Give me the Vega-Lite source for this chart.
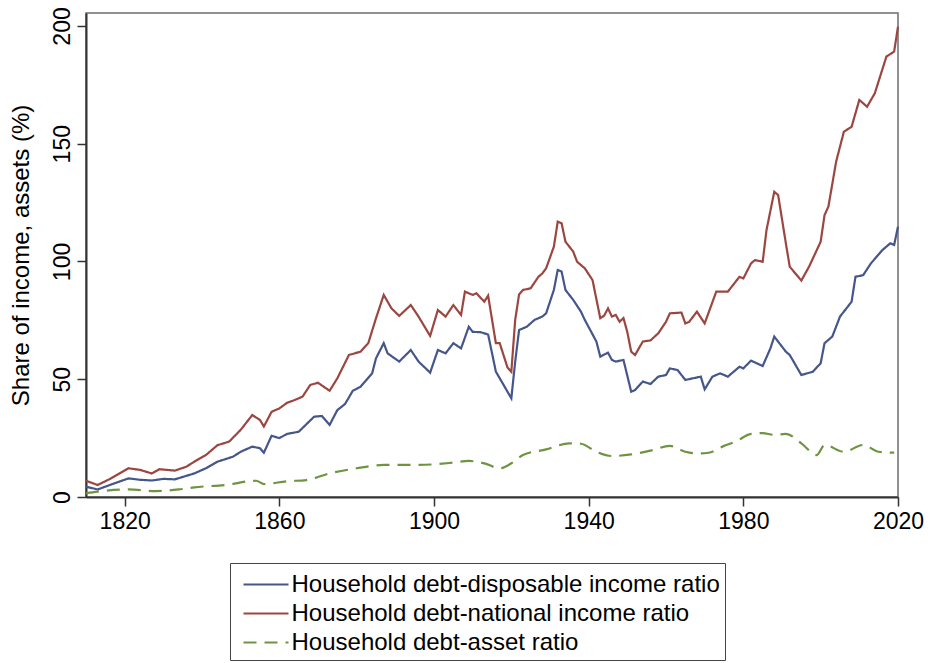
{
  "$schema": "https://vega.github.io/schema/vega-lite/v6.json",
  "width": 812,
  "height": 484,
  "autosize": {"type": "none"},
  "padding": {"left": 86, "top": 13, "right": 32, "bottom": 166},
  "background": "white",
  "config": {
    "font": "Liberation Sans",
    "view": {"stroke": "#6e6e6e", "strokeWidth": 1.5}
  },
  "datasets": {
    "d": [
      {"year": 1810, "series": "Household debt-disposable income ratio", "value": 4.4},
      {"year": 1813, "series": "Household debt-disposable income ratio", "value": 3.2},
      {"year": 1816, "series": "Household debt-disposable income ratio", "value": 5.0},
      {"year": 1821, "series": "Household debt-disposable income ratio", "value": 7.9},
      {"year": 1824, "series": "Household debt-disposable income ratio", "value": 7.3},
      {"year": 1827, "series": "Household debt-disposable income ratio", "value": 7.0},
      {"year": 1830, "series": "Household debt-disposable income ratio", "value": 7.7},
      {"year": 1833, "series": "Household debt-disposable income ratio", "value": 7.5},
      {"year": 1838, "series": "Household debt-disposable income ratio", "value": 10.0},
      {"year": 1841, "series": "Household debt-disposable income ratio", "value": 12.2},
      {"year": 1844, "series": "Household debt-disposable income ratio", "value": 15.0},
      {"year": 1848, "series": "Household debt-disposable income ratio", "value": 17.1},
      {"year": 1850, "series": "Household debt-disposable income ratio", "value": 19.2},
      {"year": 1853, "series": "Household debt-disposable income ratio", "value": 21.4},
      {"year": 1855, "series": "Household debt-disposable income ratio", "value": 20.7},
      {"year": 1856, "series": "Household debt-disposable income ratio", "value": 18.8},
      {"year": 1858, "series": "Household debt-disposable income ratio", "value": 26.0},
      {"year": 1860, "series": "Household debt-disposable income ratio", "value": 25.0},
      {"year": 1862, "series": "Household debt-disposable income ratio", "value": 26.8},
      {"year": 1865, "series": "Household debt-disposable income ratio", "value": 27.7},
      {"year": 1869, "series": "Household debt-disposable income ratio", "value": 34.1},
      {"year": 1871, "series": "Household debt-disposable income ratio", "value": 34.4},
      {"year": 1873, "series": "Household debt-disposable income ratio", "value": 30.6},
      {"year": 1875, "series": "Household debt-disposable income ratio", "value": 36.9},
      {"year": 1877, "series": "Household debt-disposable income ratio", "value": 39.5},
      {"year": 1879, "series": "Household debt-disposable income ratio", "value": 45.1},
      {"year": 1881, "series": "Household debt-disposable income ratio", "value": 46.8},
      {"year": 1884, "series": "Household debt-disposable income ratio", "value": 52.5},
      {"year": 1885, "series": "Household debt-disposable income ratio", "value": 58.9},
      {"year": 1887, "series": "Household debt-disposable income ratio", "value": 65.3},
      {"year": 1888, "series": "Household debt-disposable income ratio", "value": 61.0},
      {"year": 1891, "series": "Household debt-disposable income ratio", "value": 57.5},
      {"year": 1894, "series": "Household debt-disposable income ratio", "value": 62.4},
      {"year": 1896, "series": "Household debt-disposable income ratio", "value": 57.5},
      {"year": 1899, "series": "Household debt-disposable income ratio", "value": 52.8},
      {"year": 1901, "series": "Household debt-disposable income ratio", "value": 62.4},
      {"year": 1903, "series": "Household debt-disposable income ratio", "value": 61.0},
      {"year": 1905, "series": "Household debt-disposable income ratio", "value": 65.3},
      {"year": 1907, "series": "Household debt-disposable income ratio", "value": 63.1},
      {"year": 1909, "series": "Household debt-disposable income ratio", "value": 72.3},
      {"year": 1910, "series": "Household debt-disposable income ratio", "value": 70.1},
      {"year": 1912, "series": "Household debt-disposable income ratio", "value": 70.0},
      {"year": 1914, "series": "Household debt-disposable income ratio", "value": 69.0},
      {"year": 1916, "series": "Household debt-disposable income ratio", "value": 53.2},
      {"year": 1917, "series": "Household debt-disposable income ratio", "value": 50.4},
      {"year": 1920, "series": "Household debt-disposable income ratio", "value": 41.9},
      {"year": 1921, "series": "Household debt-disposable income ratio", "value": 57.5},
      {"year": 1922, "series": "Household debt-disposable income ratio", "value": 70.9},
      {"year": 1924, "series": "Household debt-disposable income ratio", "value": 72.3},
      {"year": 1926, "series": "Household debt-disposable income ratio", "value": 75.2},
      {"year": 1928, "series": "Household debt-disposable income ratio", "value": 76.6},
      {"year": 1929, "series": "Household debt-disposable income ratio", "value": 78.0},
      {"year": 1931, "series": "Household debt-disposable income ratio", "value": 87.9},
      {"year": 1932, "series": "Household debt-disposable income ratio", "value": 96.4},
      {"year": 1933, "series": "Household debt-disposable income ratio", "value": 95.7},
      {"year": 1934, "series": "Household debt-disposable income ratio", "value": 87.9},
      {"year": 1936, "series": "Household debt-disposable income ratio", "value": 83.7},
      {"year": 1938, "series": "Household debt-disposable income ratio", "value": 78.7},
      {"year": 1939, "series": "Household debt-disposable income ratio", "value": 75.2},
      {"year": 1942, "series": "Household debt-disposable income ratio", "value": 66.0},
      {"year": 1943, "series": "Household debt-disposable income ratio", "value": 59.6},
      {"year": 1945, "series": "Household debt-disposable income ratio", "value": 61.3},
      {"year": 1946, "series": "Household debt-disposable income ratio", "value": 58.2},
      {"year": 1947, "series": "Household debt-disposable income ratio", "value": 57.5},
      {"year": 1949, "series": "Household debt-disposable income ratio", "value": 58.2},
      {"year": 1951, "series": "Household debt-disposable income ratio", "value": 44.7},
      {"year": 1952, "series": "Household debt-disposable income ratio", "value": 45.4},
      {"year": 1954, "series": "Household debt-disposable income ratio", "value": 49.0},
      {"year": 1956, "series": "Household debt-disposable income ratio", "value": 48.0},
      {"year": 1958, "series": "Household debt-disposable income ratio", "value": 51.1},
      {"year": 1960, "series": "Household debt-disposable income ratio", "value": 51.8},
      {"year": 1961, "series": "Household debt-disposable income ratio", "value": 54.6},
      {"year": 1963, "series": "Household debt-disposable income ratio", "value": 53.9},
      {"year": 1965, "series": "Household debt-disposable income ratio", "value": 49.7},
      {"year": 1967, "series": "Household debt-disposable income ratio", "value": 50.4},
      {"year": 1969, "series": "Household debt-disposable income ratio", "value": 51.1},
      {"year": 1970, "series": "Household debt-disposable income ratio", "value": 45.7},
      {"year": 1972, "series": "Household debt-disposable income ratio", "value": 51.1},
      {"year": 1974, "series": "Household debt-disposable income ratio", "value": 52.5},
      {"year": 1976, "series": "Household debt-disposable income ratio", "value": 51.1},
      {"year": 1979, "series": "Household debt-disposable income ratio", "value": 55.3},
      {"year": 1980, "series": "Household debt-disposable income ratio", "value": 54.6},
      {"year": 1982, "series": "Household debt-disposable income ratio", "value": 57.9},
      {"year": 1985, "series": "Household debt-disposable income ratio", "value": 55.6},
      {"year": 1987, "series": "Household debt-disposable income ratio", "value": 63.1},
      {"year": 1988, "series": "Household debt-disposable income ratio", "value": 68.1},
      {"year": 1991, "series": "Household debt-disposable income ratio", "value": 61.7},
      {"year": 1992, "series": "Household debt-disposable income ratio", "value": 60.3},
      {"year": 1995, "series": "Household debt-disposable income ratio", "value": 51.8},
      {"year": 1998, "series": "Household debt-disposable income ratio", "value": 53.2},
      {"year": 2000, "series": "Household debt-disposable income ratio", "value": 56.8},
      {"year": 2001, "series": "Household debt-disposable income ratio", "value": 65.3},
      {"year": 2003, "series": "Household debt-disposable income ratio", "value": 68.1},
      {"year": 2005, "series": "Household debt-disposable income ratio", "value": 76.6},
      {"year": 2008, "series": "Household debt-disposable income ratio", "value": 82.9},
      {"year": 2009, "series": "Household debt-disposable income ratio", "value": 93.5},
      {"year": 2011, "series": "Household debt-disposable income ratio", "value": 94.2},
      {"year": 2013, "series": "Household debt-disposable income ratio", "value": 99.2},
      {"year": 2016, "series": "Household debt-disposable income ratio", "value": 104.9},
      {"year": 2018, "series": "Household debt-disposable income ratio", "value": 107.7},
      {"year": 2019, "series": "Household debt-disposable income ratio", "value": 107.0},
      {"year": 2020, "series": "Household debt-disposable income ratio", "value": 114.8},

      {"year": 1810, "series": "Household debt-national income ratio", "value": 6.9},
      {"year": 1813, "series": "Household debt-national income ratio", "value": 5.1},
      {"year": 1816, "series": "Household debt-national income ratio", "value": 7.5},
      {"year": 1821, "series": "Household debt-national income ratio", "value": 12.2},
      {"year": 1824, "series": "Household debt-national income ratio", "value": 11.5},
      {"year": 1827, "series": "Household debt-national income ratio", "value": 10.0},
      {"year": 1829, "series": "Household debt-national income ratio", "value": 11.8},
      {"year": 1833, "series": "Household debt-national income ratio", "value": 11.2},
      {"year": 1836, "series": "Household debt-national income ratio", "value": 12.9},
      {"year": 1838, "series": "Household debt-national income ratio", "value": 15.0},
      {"year": 1841, "series": "Household debt-national income ratio", "value": 17.8},
      {"year": 1844, "series": "Household debt-national income ratio", "value": 22.0},
      {"year": 1847, "series": "Household debt-national income ratio", "value": 23.5},
      {"year": 1850, "series": "Household debt-national income ratio", "value": 28.5},
      {"year": 1853, "series": "Household debt-national income ratio", "value": 34.8},
      {"year": 1855, "series": "Household debt-national income ratio", "value": 32.7},
      {"year": 1856, "series": "Household debt-national income ratio", "value": 29.9},
      {"year": 1858, "series": "Household debt-national income ratio", "value": 36.2},
      {"year": 1860, "series": "Household debt-national income ratio", "value": 37.6},
      {"year": 1862, "series": "Household debt-national income ratio", "value": 40.0},
      {"year": 1864, "series": "Household debt-national income ratio", "value": 41.2},
      {"year": 1866, "series": "Household debt-national income ratio", "value": 42.6},
      {"year": 1868, "series": "Household debt-national income ratio", "value": 47.6},
      {"year": 1870, "series": "Household debt-national income ratio", "value": 48.5},
      {"year": 1873, "series": "Household debt-national income ratio", "value": 45.1},
      {"year": 1875, "series": "Household debt-national income ratio", "value": 50.4},
      {"year": 1878, "series": "Household debt-national income ratio", "value": 60.3},
      {"year": 1881, "series": "Household debt-national income ratio", "value": 61.7},
      {"year": 1883, "series": "Household debt-national income ratio", "value": 65.3},
      {"year": 1885, "series": "Household debt-national income ratio", "value": 75.9},
      {"year": 1887, "series": "Household debt-national income ratio", "value": 85.8},
      {"year": 1889, "series": "Household debt-national income ratio", "value": 80.1},
      {"year": 1891, "series": "Household debt-national income ratio", "value": 76.9},
      {"year": 1894, "series": "Household debt-national income ratio", "value": 81.5},
      {"year": 1896, "series": "Household debt-national income ratio", "value": 76.6},
      {"year": 1899, "series": "Household debt-national income ratio", "value": 68.4},
      {"year": 1901, "series": "Household debt-national income ratio", "value": 79.4},
      {"year": 1903, "series": "Household debt-national income ratio", "value": 76.6},
      {"year": 1905, "series": "Household debt-national income ratio", "value": 81.5},
      {"year": 1907, "series": "Household debt-national income ratio", "value": 77.3},
      {"year": 1908, "series": "Household debt-national income ratio", "value": 87.2},
      {"year": 1910, "series": "Household debt-national income ratio", "value": 85.8},
      {"year": 1911, "series": "Household debt-national income ratio", "value": 86.5},
      {"year": 1913, "series": "Household debt-national income ratio", "value": 82.9},
      {"year": 1914, "series": "Household debt-national income ratio", "value": 85.5},
      {"year": 1916, "series": "Household debt-national income ratio", "value": 65.3},
      {"year": 1917, "series": "Household debt-national income ratio", "value": 65.3},
      {"year": 1919, "series": "Household debt-national income ratio", "value": 55.0},
      {"year": 1920, "series": "Household debt-national income ratio", "value": 53.2},
      {"year": 1921, "series": "Household debt-national income ratio", "value": 75.2},
      {"year": 1922, "series": "Household debt-national income ratio", "value": 86.0},
      {"year": 1923, "series": "Household debt-national income ratio", "value": 87.9},
      {"year": 1925, "series": "Household debt-national income ratio", "value": 88.6},
      {"year": 1927, "series": "Household debt-national income ratio", "value": 93.5},
      {"year": 1928, "series": "Household debt-national income ratio", "value": 94.9},
      {"year": 1929, "series": "Household debt-national income ratio", "value": 97.1},
      {"year": 1931, "series": "Household debt-national income ratio", "value": 106.3},
      {"year": 1932, "series": "Household debt-national income ratio", "value": 116.9},
      {"year": 1933, "series": "Household debt-national income ratio", "value": 116.2},
      {"year": 1934, "series": "Household debt-national income ratio", "value": 108.4},
      {"year": 1936, "series": "Household debt-national income ratio", "value": 104.2},
      {"year": 1937, "series": "Household debt-national income ratio", "value": 99.9},
      {"year": 1939, "series": "Household debt-national income ratio", "value": 97.1},
      {"year": 1941, "series": "Household debt-national income ratio", "value": 92.1},
      {"year": 1943, "series": "Household debt-national income ratio", "value": 75.9},
      {"year": 1944, "series": "Household debt-national income ratio", "value": 77.0},
      {"year": 1945, "series": "Household debt-national income ratio", "value": 80.1},
      {"year": 1946, "series": "Household debt-national income ratio", "value": 76.6},
      {"year": 1947, "series": "Household debt-national income ratio", "value": 77.3},
      {"year": 1948, "series": "Household debt-national income ratio", "value": 74.4},
      {"year": 1949, "series": "Household debt-national income ratio", "value": 76.0},
      {"year": 1950, "series": "Household debt-national income ratio", "value": 70.0},
      {"year": 1951, "series": "Household debt-national income ratio", "value": 61.7},
      {"year": 1952, "series": "Household debt-national income ratio", "value": 60.3},
      {"year": 1954, "series": "Household debt-national income ratio", "value": 66.0},
      {"year": 1956, "series": "Household debt-national income ratio", "value": 66.5},
      {"year": 1958, "series": "Household debt-national income ratio", "value": 69.5},
      {"year": 1960, "series": "Household debt-national income ratio", "value": 74.4},
      {"year": 1961, "series": "Household debt-national income ratio", "value": 78.0},
      {"year": 1964, "series": "Household debt-national income ratio", "value": 78.3},
      {"year": 1965, "series": "Household debt-national income ratio", "value": 73.7},
      {"year": 1966, "series": "Household debt-national income ratio", "value": 74.4},
      {"year": 1968, "series": "Household debt-national income ratio", "value": 78.7},
      {"year": 1970, "series": "Household debt-national income ratio", "value": 73.7},
      {"year": 1973, "series": "Household debt-national income ratio", "value": 87.2},
      {"year": 1976, "series": "Household debt-national income ratio", "value": 87.2},
      {"year": 1979, "series": "Household debt-national income ratio", "value": 93.5},
      {"year": 1980, "series": "Household debt-national income ratio", "value": 92.8},
      {"year": 1982, "series": "Household debt-national income ratio", "value": 99.2},
      {"year": 1983, "series": "Household debt-national income ratio", "value": 100.6},
      {"year": 1985, "series": "Household debt-national income ratio", "value": 99.9},
      {"year": 1986, "series": "Household debt-national income ratio", "value": 113.4},
      {"year": 1988, "series": "Household debt-national income ratio", "value": 129.6},
      {"year": 1989, "series": "Household debt-national income ratio", "value": 128.2},
      {"year": 1991, "series": "Household debt-national income ratio", "value": 107.7},
      {"year": 1992, "series": "Household debt-national income ratio", "value": 97.8},
      {"year": 1995, "series": "Household debt-national income ratio", "value": 91.9},
      {"year": 1997, "series": "Household debt-national income ratio", "value": 97.8},
      {"year": 2000, "series": "Household debt-national income ratio", "value": 108.4},
      {"year": 2001, "series": "Household debt-national income ratio", "value": 119.7},
      {"year": 2002, "series": "Household debt-national income ratio", "value": 123.3},
      {"year": 2004, "series": "Household debt-national income ratio", "value": 142.4},
      {"year": 2006, "series": "Household debt-national income ratio", "value": 155.1},
      {"year": 2008, "series": "Household debt-national income ratio", "value": 157.2},
      {"year": 2010, "series": "Household debt-national income ratio", "value": 168.6},
      {"year": 2012, "series": "Household debt-national income ratio", "value": 165.7},
      {"year": 2014, "series": "Household debt-national income ratio", "value": 171.4},
      {"year": 2017, "series": "Household debt-national income ratio", "value": 187.0},
      {"year": 2019, "series": "Household debt-national income ratio", "value": 189.1},
      {"year": 2020, "series": "Household debt-national income ratio", "value": 199.7},

      {"year": 1810, "series": "Household debt-asset ratio", "value": 1.6},
      {"year": 1813, "series": "Household debt-asset ratio", "value": 2.3},
      {"year": 1821, "series": "Household debt-asset ratio", "value": 3.2},
      {"year": 1828, "series": "Household debt-asset ratio", "value": 2.5},
      {"year": 1834, "series": "Household debt-asset ratio", "value": 3.2},
      {"year": 1838, "series": "Household debt-asset ratio", "value": 4.1},
      {"year": 1846, "series": "Household debt-asset ratio", "value": 5.1},
      {"year": 1854, "series": "Household debt-asset ratio", "value": 6.9},
      {"year": 1856, "series": "Household debt-asset ratio", "value": 5.5},
      {"year": 1862, "series": "Household debt-asset ratio", "value": 6.7},
      {"year": 1867, "series": "Household debt-asset ratio", "value": 7.2},
      {"year": 1873, "series": "Household debt-asset ratio", "value": 10.0},
      {"year": 1880, "series": "Household debt-asset ratio", "value": 12.2},
      {"year": 1887, "series": "Household debt-asset ratio", "value": 13.6},
      {"year": 1896, "series": "Household debt-asset ratio", "value": 13.6},
      {"year": 1905, "series": "Household debt-asset ratio", "value": 14.6},
      {"year": 1909, "series": "Household debt-asset ratio", "value": 15.3},
      {"year": 1913, "series": "Household debt-asset ratio", "value": 14.3},
      {"year": 1917, "series": "Household debt-asset ratio", "value": 12.2},
      {"year": 1920, "series": "Household debt-asset ratio", "value": 14.3},
      {"year": 1923, "series": "Household debt-asset ratio", "value": 17.8},
      {"year": 1929, "series": "Household debt-asset ratio", "value": 20.2},
      {"year": 1935, "series": "Household debt-asset ratio", "value": 22.8},
      {"year": 1938, "series": "Household debt-asset ratio", "value": 22.6},
      {"year": 1942, "series": "Household debt-asset ratio", "value": 19.2},
      {"year": 1946, "series": "Household debt-asset ratio", "value": 17.4},
      {"year": 1951, "series": "Household debt-asset ratio", "value": 18.1},
      {"year": 1956, "series": "Household debt-asset ratio", "value": 19.7},
      {"year": 1961, "series": "Household debt-asset ratio", "value": 21.7},
      {"year": 1965, "series": "Household debt-asset ratio", "value": 19.2},
      {"year": 1968, "series": "Household debt-asset ratio", "value": 18.5},
      {"year": 1971, "series": "Household debt-asset ratio", "value": 18.8},
      {"year": 1975, "series": "Household debt-asset ratio", "value": 21.7},
      {"year": 1978, "series": "Household debt-asset ratio", "value": 23.5},
      {"year": 1982, "series": "Household debt-asset ratio", "value": 26.8},
      {"year": 1985, "series": "Household debt-asset ratio", "value": 27.1},
      {"year": 1988, "series": "Household debt-asset ratio", "value": 26.4},
      {"year": 1991, "series": "Household debt-asset ratio", "value": 26.8},
      {"year": 1995, "series": "Household debt-asset ratio", "value": 22.8},
      {"year": 1999, "series": "Household debt-asset ratio", "value": 17.8},
      {"year": 2001, "series": "Household debt-asset ratio", "value": 22.1},
      {"year": 2006, "series": "Household debt-asset ratio", "value": 19.2},
      {"year": 2011, "series": "Household debt-asset ratio", "value": 22.1},
      {"year": 2015, "series": "Household debt-asset ratio", "value": 19.2},
      {"year": 2019, "series": "Household debt-asset ratio", "value": 18.8}
    ]
  },
  "data": {"name": "d"},
  "encoding": {
    "x": {
      "field": "year",
      "type": "quantitative",
      "scale": {"domain": [1810, 2020], "nice": false, "zero": false},
      "axis": {
        "values": [1820, 1860, 1900, 1940, 1980, 2020],
        "format": "d",
        "title": null,
        "grid": false,
        "tickSize": 9,
        "tickWidth": 1.5,
        "tickColor": "#333333",
        "domainColor": "#333333",
        "domainWidth": 2,
        "labelFontSize": 23,
        "labelColor": "black",
        "labelPadding": 4,
        "labelFlush": false,
        "labelOverlap": false
      }
    },
    "y": {
      "field": "value",
      "type": "quantitative",
      "scale": {"domain": [0, 205.5], "nice": false},
      "axis": {
        "values": [0, 50, 100, 150, 200],
        "title": "Share of income, assets (%)",
        "titleFontSize": 24,
        "titleFontWeight": "normal",
        "titleColor": "black",
        "titlePadding": 18,
        "grid": false,
        "tickSize": 9,
        "tickWidth": 1.5,
        "tickColor": "#333333",
        "domainColor": "#333333",
        "domainWidth": 2,
        "labelAngle": -90,
        "labelAlign": "center",
        "labelBaseline": "bottom",
        "labelFontSize": 23,
        "labelColor": "black",
        "labelPadding": 3,
        "labelFlush": false,
        "labelOverlap": false
      }
    },
    "color": {
      "field": "series",
      "type": "nominal",
      "scale": {
        "domain": ["Household debt-disposable income ratio", "Household debt-national income ratio", "Household debt-asset ratio"],
        "range": ["#45568a", "#9b4640", "#6f9441"]
      },
      "legend": {
        "title": null,
        "orient": "none",
        "legendX": 144,
        "legendY": 550,
        "direction": "vertical",
        "strokeColor": "#444444",
        "fillColor": "white",
        "padding": 5,
        "labelFontSize": 24,
        "labelColor": "black",
        "labelLimit": 700,
        "labelOffset": 9,
        "labelExpr": "datum.label + '\u2003\u2009'",
        "symbolOffset": 14.5,
        "symbolType": "M-1.5,0H1.5",
        "symbolSize": 900,
        "symbolStrokeWidth": 2.2,
        "rowPadding": 0
      }
    },
    "strokeDash": {
      "field": "series",
      "type": "nominal",
      "scale": {
        "domain": ["Household debt-disposable income ratio", "Household debt-national income ratio", "Household debt-asset ratio"],
        "range": [[1, 0], [1, 0], [13, 8]]
      },
      "legend": {
        "title": null,
        "orient": "none",
        "legendX": 144,
        "legendY": 550,
        "direction": "vertical",
        "strokeColor": "#444444",
        "fillColor": "white",
        "padding": 5,
        "labelFontSize": 24,
        "labelColor": "black",
        "labelLimit": 700,
        "labelOffset": 9,
        "labelExpr": "datum.label + '\u2003\u2009'",
        "symbolOffset": 14.5,
        "symbolType": "M-1.5,0H1.5",
        "symbolSize": 900,
        "symbolStrokeWidth": 2.2,
        "rowPadding": 0
      }
    }
  },
  "layer": [
    {
      "transform": [{"filter": "datum.series !== 'Household debt-asset ratio'"}],
      "mark": {"type": "line", "strokeWidth": 2.2}
    },
    {
      "transform": [{"filter": "datum.series === 'Household debt-asset ratio'"}],
      "mark": {"type": "line", "strokeWidth": 2.2, "interpolate": "monotone"}
    }
  ]
}
